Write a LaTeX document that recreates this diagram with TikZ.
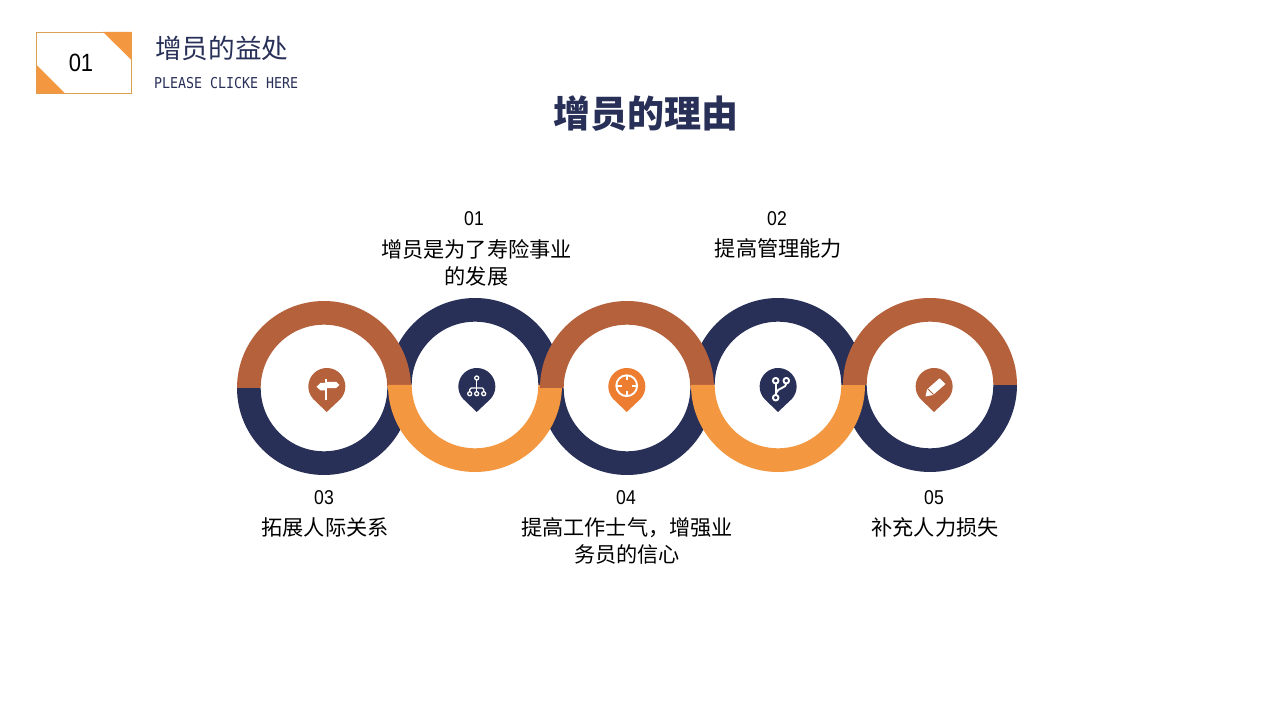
\documentclass[tikz,border=0pt]{standalone}
\usepackage{fontspec}
\setmainfont{Noto Sans CJK SC}
\newfontfamily\latinsans[FakeStretch=0.88]{Liberation Sans}
\newfontfamily\latinmono[FakeStretch=0.886]{DejaVu Sans Mono}
\definecolor{navy}{HTML}{283058}
\definecolor{brownc}{HTML}{B5613C}
\definecolor{orangec}{HTML}{F39740}
\definecolor{pinorange}{HTML}{ED7D31}
\definecolor{badgeline}{HTML}{DDA050}
\newcommand{\halfring}[4]{% cx, cy(up), start angle, colour
  \fill[#4] ([shift={(#3:87)}]#1,#2) arc[start angle=#3,delta angle=180,radius=87]
    -- ([shift={(#3+180:63.3)}]#1,#2) arc[start angle=#3+180,delta angle=-180,radius=63.3] -- cycle;}
\newcommand{\pin}[3]{% cx, cy(up), colour
  \fill[#3] (#1-13.5,#2-12.5) arc[start angle=222.5,delta angle=-265,radius=18.5]
    -- (#1,#2-25.5) -- cycle;}
\tikzset{x=1pt,y=1pt,
  lab/.style={align=center,font=\fontsize{21.2}{27}\selectfont,inner sep=0pt,text=black},
  num/.style={font=\latinsans\fontsize{20}{24}\selectfont,inner sep=0pt,text=black},
  icon/.style={draw=white,line width=1.3,fill=none,line cap=round,line join=round}}
\begin{document}
\begin{tikzpicture}
\useasboundingbox (0,0) rectangle (1280,720);
\fill[white] (0,0) rectangle (1280,720);
% badge
\draw[draw=badgeline,line width=0.9,fill=white] (36.5,626.5) rectangle (131.5,688);
\fill[orangec] (103,688) -- (131.5,688) -- (131.5,660) -- cycle;
\fill[orangec] (36.5,655) -- (36.5,626.5) -- (65,626.5) -- cycle;
\node[font=\latinsans\fontsize{25}{30}\selectfont,inner sep=0pt] (badge) at (81,657) {01};
\node[anchor=west,inner sep=0pt,text=navy,font=\fontsize{26.6}{30}\selectfont] (head) at (155,672) {增员的益处};
\node[anchor=west,inner sep=0pt,text=navy,font=\latinmono\fontsize{15}{18}\selectfont] (sub) at (154,637) {PLEASE CLICKE HERE};
\node[inner sep=0pt,text=navy,font=\bfseries\fontsize{37}{44}\selectfont] (title) at (645.5,606) {增员的理由};
% rings: navy halves below, brown/orange above
\halfring{324}{332}{180}{navy}
\halfring{475}{335}{0}{navy}
\halfring{627}{332}{180}{navy}
\halfring{778}{335}{0}{navy}
\halfring{930}{335}{180}{navy}
\halfring{324}{332}{0}{brownc}
\halfring{475}{335}{180}{orangec}
\halfring{627}{332}{0}{brownc}
\halfring{778}{335}{180}{orangec}
\halfring{930}{335}{0}{brownc}
% pins
\pin{326.7}{333.5}{brownc}
\pin{476.7}{333.5}{navy}
\pin{626.7}{333.5}{pinorange}
\pin{778}{333.5}{navy}
\pin{934}{333.5}{brownc}
% icon 1: signpost
\fill[white] (325.4,320) rectangle (327,341);
\fill[white] (316.5,333.3) -- (320.5,337) -- (325.4,337) -- (325.4,329.6) -- (320.5,329.6) -- cycle;
\fill[white] (327,338.2) -- (336,338.2) -- (339.5,335) -- (336,331.8) -- (327,331.8) -- cycle;
% icon 2: hierarchy
\begin{scope}[icon]
\draw (476.7,342) circle (2);
\draw (476.7,340) -- (476.7,328.3);
\draw (469.7,328.3) -- (469.7,330.5) arc[start angle=180,end angle=90,radius=1.5] -- (482.2,332) arc[start angle=90,end angle=0,radius=1.5] -- (483.7,328.3);
\draw (469.7,326.3) circle (2);
\draw (476.7,326.3) circle (2);
\draw (483.7,326.3) circle (2);
\end{scope}
% icon 3: crosshair
\begin{scope}[icon,line width=1.9,line cap=butt]
\draw (626.7,334.3) circle (10.4);
\draw (626.7,344.7) -- (626.7,339.5);
\draw (626.7,329.1) -- (626.7,323.9);
\draw (616.3,334.3) -- (621.5,334.3);
\draw (631.9,334.3) -- (637.1,334.3);
\end{scope}
% icon 4: branch
\begin{scope}[icon,line width=1.9]
\draw (775.7,339.3) circle (2.8);
\draw (786.3,339.3) circle (2.8);
\draw (775.7,322.3) circle (2.8);
\draw (775.7,336.5) -- (775.7,325.1);
\draw (786.3,336.5) .. controls (786.3,331.5) and (778,333) .. (775.7,326.5);
\end{scope}
% icon 5: pencil
\fill[white] (925.5,323.5) -- (927,330.5) -- (939.5,341.7) -- (945.5,336) -- (933,325) -- cycle;
\draw[brownc,line width=0.8] (928,331) -- (933.5,325.5);
% labels
\node[num] (n1) at (474,501.5) {01};
\node[lab] (t1) at (476.5,457.5) {增员是为了寿险事业\\的发展};
\node[num] (n2) at (777,501.5) {02};
\node[lab] (t2) at (778.5,471.5) {提高管理能力};
\node[num] (n3) at (324,222.5) {03};
\node[lab] (t3) at (325,192.5) {拓展人际关系};
\node[num] (n4) at (626,222.5) {04};
\node[lab] (t4) at (627,179) {提高工作士气，增强业\\务员的信心};
\node[num] (n5) at (934,222.5) {05};
\node[lab] (t5) at (935,192.5) {补充人力损失};
\end{tikzpicture}
\end{document}
